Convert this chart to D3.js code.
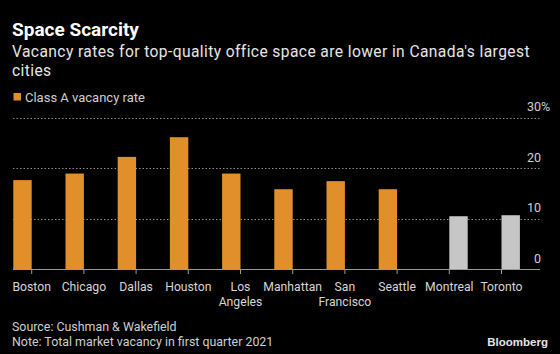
<!DOCTYPE html>
<html>
<head>
<meta charset="utf-8">
<script src="https://cdn.jsdelivr.net/npm/d3@7"></script>
<style>
  body { margin: 0; background: #000; }
  svg { display: block; font-family: Roboto, "Noto Sans", sans-serif; }
</style>
</head>
<body>
<svg id="chart" width="560" height="354"></svg>
<script>
// data
var cities = ['Boston', 'Chicago', 'Dallas', 'Houston', 'Los Angeles', 'Manhattan', 'San Francisco', 'Seattle', 'Montreal', 'Toronto'];
var cityLines = [['Boston'], ['Chicago'], ['Dallas'], ['Houston'], ['Los', 'Angeles'], ['Manhattan'], ['San', 'Francisco'], ['Seattle'], ['Montreal'], ['Toronto']];
var classA = [17.6, 18.9, 22.2, 26.1, 18.9, 15.8, 17.4, 15.8, null, null];
var canada = [null, null, null, null, null, null, null, null, 10.45, 10.65];
var yTicks = [0, 10, 20, 30];

var svg = d3.select('#chart');
var W = 560, H = 354;

svg.append('rect').attr('width', W).attr('height', H).attr('fill', '#000');

var plotLeft = 13, plotRight = 540;
var y = d3.scaleLinear().domain([0, 30]).range([269, 117.5]);
var x = d3.scaleBand().domain(cities).range([5.6, 527.6]).padding(0);
var barW = 18.4;
var inner = d3.scaleBand().domain(['classA', 'canada']).range([-barW, barW]);

// title + subtitle
svg.append('text').attr('x', 12).attr('y', 35.5)
  .attr('fill', '#fff').attr('font-size', 19).attr('font-weight', 'bold')
  .text('Space Scarcity');
svg.append('text').attr('x', 12).attr('y', 57)
  .attr('fill', '#e6e6e6').attr('font-size', 15.6).attr('letter-spacing', 0.4)
  .text("Vacancy rates for top-quality office space are lower in Canada's largest");
svg.append('text').attr('x', 12).attr('y', 75.5)
  .attr('fill', '#e6e6e6').attr('font-size', 15.6).attr('letter-spacing', 0.4)
  .text('cities');

// legend
svg.append('rect').attr('x', 13.5).attr('y', 93).attr('width', 7.5).attr('height', 7.5).attr('fill', '#e08f2a');
svg.append('text').attr('x', 25).attr('y', 101.5).attr('fill', '#cfcfcf').attr('font-size', 13)
  .text('Class A vacancy rate');

// grid lines
svg.append('g').selectAll('line').data(yTicks.filter(function(d){ return d > 0; }))
  .join('line')
  .attr('x1', plotLeft).attr('x2', plotRight)
  .attr('y1', function(d){ return Math.round(y(d)) + 0.5; })
  .attr('y2', function(d){ return Math.round(y(d)) + 0.5; })
  .attr('stroke', '#8a8a8a').attr('stroke-width', 1).attr('stroke-dasharray', '1.5,2');

// y labels, right side above the grid lines
svg.append('g').selectAll('text').data(yTicks).join('text')
  .attr('x', 541).attr('y', function(d){ return y(d) - 6.5; })
  .attr('text-anchor', 'end').attr('fill', '#cfcfcf').attr('font-size', 12.5)
  .text(function(d){ return d; });
svg.append('text').attr('x', 541).attr('y', y(30) - 6.5)
  .attr('fill', '#cfcfcf').attr('font-size', 12.5).text('%');

// bars: two series per city, orange left of the tick, grey right of it
var rows = cities.map(function(c, i){
  return [{ city: c, key: 'classA', v: classA[i] }, { city: c, key: 'canada', v: canada[i] }];
});
var colors = { classA: '#e08f2a', canada: '#c6c6c6' };

svg.append('g').selectAll('rect')
  .data(d3.merge(rows).filter(function(d){ return d.v != null; }))
  .join('rect')
  .attr('x', function(d){ return x(d.city) + x.bandwidth() / 2 + inner(d.key); })
  .attr('width', inner.bandwidth())
  .attr('y', function(d){ return y(d.v); })
  .attr('height', function(d){ return y(0) - y(d.v); })
  .attr('fill', function(d){ return colors[d.key]; });

// x axis line and ticks
svg.append('line').attr('x1', plotLeft).attr('x2', plotRight)
  .attr('y1', 269.5).attr('y2', 269.5).attr('stroke', '#9a9a9a').attr('stroke-width', 1.2);
svg.append('g').selectAll('line').data(cities).join('line')
  .attr('x1', function(d){ return x(d) + x.bandwidth() / 2; })
  .attr('x2', function(d){ return x(d) + x.bandwidth() / 2; })
  .attr('y1', 269.5).attr('y2', 274)
  .attr('stroke', '#9a9a9a').attr('stroke-width', 1);

// x labels
var xl = svg.append('g').selectAll('text').data(cities).join('text')
  .attr('text-anchor', 'middle').attr('fill', '#d6d6d6').attr('font-size', 12.2);
xl.each(function(d, i){
  var t = d3.select(this);
  cityLines[i].forEach(function(line, j){
    t.append('tspan').attr('x', x(d) + x.bandwidth() / 2).attr('y', 290.5 + j * 15).text(line);
  });
});

// footer
svg.append('text').attr('x', 12).attr('y', 330.5).attr('fill', '#cfcfcf').attr('font-size', 12.4)
  .text('Source: Cushman & Wakefield');
svg.append('text').attr('x', 12).attr('y', 346).attr('fill', '#cfcfcf').attr('font-size', 12.4)
  .text('Note: Total market vacancy in first quarter 2021');
svg.append('text').attr('x', 548).attr('y', 346).attr('text-anchor', 'end')
  .attr('fill', '#e6e6e6').attr('font-size', 11.5).attr('font-weight', 'bold')
  .attr('font-family', 'Arial, "Liberation Sans", sans-serif')
  .text('Bloomberg');
</script>
</body>
</html>
